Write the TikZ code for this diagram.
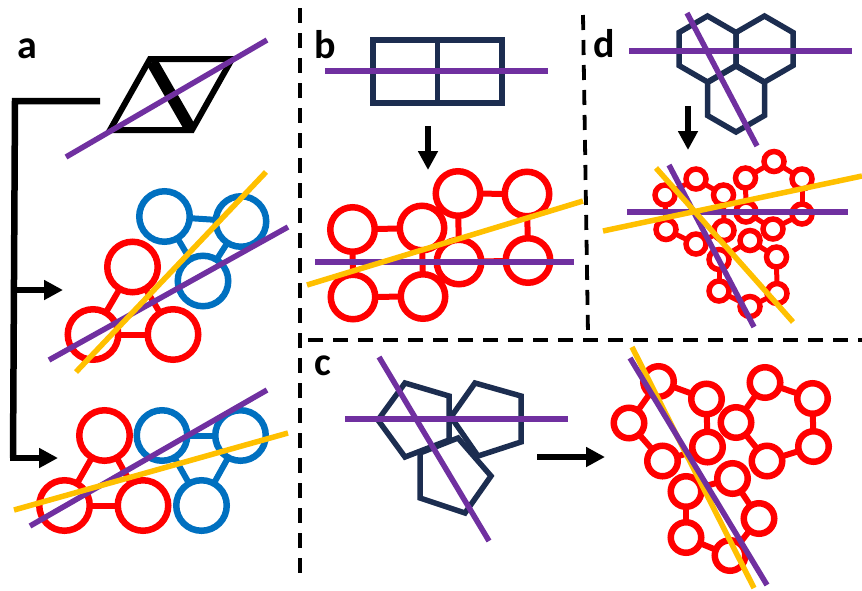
\documentclass[tikz,border=0pt]{standalone}
\usepackage{fontspec}
\setsansfont{Carlito}
\usetikzlibrary{arrows.meta}

\definecolor{atomred}{HTML}{FF0000}
\definecolor{atomblue}{HTML}{0070C0}
\definecolor{cutpurple}{HTML}{7030A0}
\definecolor{cutyellow}{HTML}{FFC000}
\definecolor{shapenavy}{HTML}{1C2D50}

\begin{document}
\begin{tikzpicture}[
    x=1pt, y=-1pt,
    >={Triangle[length=19pt, width=19pt]},
    panellabel/.style={anchor=base west, inner sep=0pt, font=\sffamily\bfseries\fontsize{40}{48}\selectfont},
    divider/.style={draw, line width=3.8pt, dash pattern=on 15pt off 10pt},
    flowarrow/.style={draw, ->, line width=6.5pt},
    purplecut/.style={draw=cutpurple, line width=5.5pt},
    yellowcut/.style={draw=cutyellow, line width=5.5pt},
    navyline/.style={draw=shapenavy, line width=5.5pt},
    atom/.style={circle, draw, inner sep=0pt},
    atomA/.style={atom, line width=6.5pt, minimum size=50.5pt},
    atomB/.style={atom, line width=6.5pt, minimum size=44.5pt},
    atomC/.style={atom, line width=6.5pt, minimum size=30.5pt},
    atomD/.style={atom, line width=5.5pt, minimum size=20pt},
    bondA/.style={line width=6pt, shorten <=-2pt, shorten >=-2pt},
    bondD/.style={line width=5pt, shorten <=-2pt, shorten >=-2pt}
]
    \useasboundingbox (0,0) rectangle (862,590);

    % --- dividers ---
    \path [divider] (300,8) -- (300,582);
    \path [divider] (583,15) -- (588,334);
    \path [divider] (308,340) -- (862,340);

    % --- labels ---
    \node [panellabel] (la) at (17,58) {a};
    \node [panellabel] (lb) at (314,58) {b};
    \node [panellabel] (lc) at (314,375) {c};
    \node [panellabel] (ld) at (593,57) {d};

    % --- panel a ---
    \draw [line width=6pt] (150,59) -- (232,59) -- (192,130) -- (110,130) -- cycle;
    \draw [line width=12pt] (152,62) -- (190,128);
    \path [purplecut] (66,157) -- (267,40);

    \coordinate (brtop) at (100,101);
    \coordinate (brcorner) at (15,101);
    \coordinate (brmid) at (14,290);
    \coordinate (brmidend) at (63,290);
    \coordinate (brlow) at (13,458);
    \coordinate (brlowend) at (58,458);
    \draw [line width=6.5pt] (brtop) -- (brcorner) -- (brlow);
    \path [flowarrow] (brmid) -- (brmidend);
    \path [flowarrow] ([xshift=-3.25pt]brlow) -- (brlowend);

    \node [atomA, draw=atomblue] (mb1) at (164.5,216.5) {};
    \node [atomA, draw=atomblue] (mb2) at (241,221.5) {};
    \node [atomA, draw=atomblue] (mb3) at (203,281) {};
    \node [atomA, draw=atomred] (mr1) at (132.5,267) {};
    \node [atomA, draw=atomred] (mr2) at (93,334.5) {};
    \node [atomA, draw=atomred] (mr3) at (173,334.5) {};
    \draw [bondA, atomblue] (mb1) -- (mb2);
    \draw [bondA, atomblue] (mb1) -- (mb3);
    \draw [bondA, atomblue] (mb2) -- (mb3);
    \draw [bondA, atomred] (mr1) -- (mr2);
    \draw [bondA, atomred] (mr1) -- (mr3);
    \draw [bondA, atomred] (mr2) -- (mr3);
    \path [purplecut] (49,360) -- (288,227);
    \path [yellowcut] (76,372) -- (266,172);

    \node [atomA, draw=atomred] (nr1) at (104.5,435.5) {};
    \node [atomA, draw=atomred] (nr2) at (64.5,505.5) {};
    \node [atomA, draw=atomred] (nr3) at (143,505.5) {};
    \node [atomA, draw=atomblue] (nb1) at (162,435.5) {};
    \node [atomA, draw=atomblue] (nb2) at (240.5,435.5) {};
    \node [atomA, draw=atomblue] (nb3) at (201.5,505.5) {};
    \draw [bondA, atomred] (nr1) -- (nr2);
    \draw [bondA, atomred] (nr1) -- (nr3);
    \draw [bondA, atomred] (nr2) -- (nr3);
    \draw [bondA, atomblue] (nb1) -- (nb2);
    \draw [bondA, atomblue] (nb1) -- (nb3);
    \draw [bondA, atomblue] (nb2) -- (nb3);
    \path [purplecut] (30,526) -- (267,390);
    \path [yellowcut] (14,510) -- (288,433);

    % --- panel b ---
    \path [navyline] (373,40) rectangle (502,103);
    \path [navyline] (437.5,40) -- (437.5,103);
    \path [purplecut] (325,71) -- (548,71);
    \coordinate (bsrc) at (428,126);
    \coordinate (bdst) at (428,170);
    \path [flowarrow] (bsrc) -- (bdst);

    \foreach \n/\x/\y in {1/352.5/229.5, 2/422/228, 3/458/193.5, 4/527/194,
                          5/353/297, 6/423/296.5, 7/459/262, 8/528/260.5}
        \node [atomB, draw=atomred] (b\n) at (\x,\y) {};
    \foreach \p/\q in {1/2, 1/5, 5/6, 2/6, 3/4, 3/7, 4/8, 7/8}
        \draw [bondA, atomred] (b\p) -- (b\q);
    \path [purplecut] (315,262) -- (574,262);
    \path [yellowcut] (307,285) -- (583,201);

    % --- panel c ---
    \path [navyline] (405,383) -- (449,396) -- (449,440) -- (405,457) -- (378,420) -- cycle;
    \path [navyline] (475,383) -- (521,396) -- (521,442) -- (478,456) -- (451,417) -- cycle;
    \path [navyline] (420,453) -- (458,438) -- (491,476) -- (465,513) -- (420,498) -- cycle;
    \path [purplecut] (345,419) -- (568,419);
    \path [purplecut] (379,357) -- (489,541);
    \coordinate (csrc) at (537,457);
    \coordinate (cdst) at (605,457);
    \path [flowarrow] (csrc) -- (cdst);

    \foreach \n/\x/\y in {A/658.5/381.5, B/706.5/399, C/629/423, D/736/422.5,
                          E/765/382.5, F/812.5/398.5, G/707.5/447, H/662.5/461,
                          I/767/461, J/813.5/446.5, K/732.5/478.5, L/686/491.5,
                          M/759/518.5, N/686/537.5, O/730/555.5}
        \node [atomC, draw=atomred] (c\n) at (\x,\y) {};
    \foreach \p/\q in {A/B, B/G, G/H, H/C, C/A, D/E, E/F, F/J, J/I, I/D,
                       K/M, M/O, O/N, N/L, L/K}
        \draw [bondA, atomred] (c\p) -- (c\q);
    \path [yellowcut] (632,347) -- (754,588);
    \path [purplecut] (630,358) -- (767,585);

    % --- panel d ---
    \foreach \cx/\cy in {707.5/49, 764.5/49, 736/99}
        \path [navyline] (\cx,\cy-33) -- (\cx+28.5,\cy-16.5) -- (\cx+28.5,\cy+16.5)
            -- (\cx,\cy+33) -- (\cx-28.5,\cy+16.5) -- (\cx-28.5,\cy-16.5) -- cycle;
    \path [purplecut] (629,51) -- (852,51);
    \path [purplecut] (687,13) -- (757,146);
    \coordinate (dsrc) at (688,106);
    \coordinate (ddst) at (688,150);
    \path [flowarrow] (dsrc) -- (ddst);

    \foreach \n/\x/\y in {1/665/195, 2/696/179, 3/723.5/195, 4/745.5/178,
                          5/774/161.5, 6/802/179, 7/802/214, 8/746/212,
                          9/773/229, 10/666/229.5, 11/696/244, 12/724/230.5,
                          13/750/240.5, 14/719/259.5, 15/776.5/257, 16/777/293.5,
                          17/719/291, 18/750/306.5}
        \node [atomD, draw=atomred] (d\n) at (\x,\y) {};
    \foreach \p/\q in {1/2, 2/3, 3/12, 12/11, 11/10, 10/1,
                       4/5, 5/6, 6/7, 7/9, 9/8, 8/4,
                       13/15, 15/16, 16/18, 18/17, 17/14, 14/13}
        \draw [bondD, atomred] (d\p) -- (d\q);
    \path [purplecut] (627,212) -- (848,212);
    \path [purplecut] (669,165) -- (754,327);
    \path [yellowcut] (603,231) -- (862,176);
    \path [yellowcut] (656,168) -- (793,322);

\end{tikzpicture}
\end{document}
